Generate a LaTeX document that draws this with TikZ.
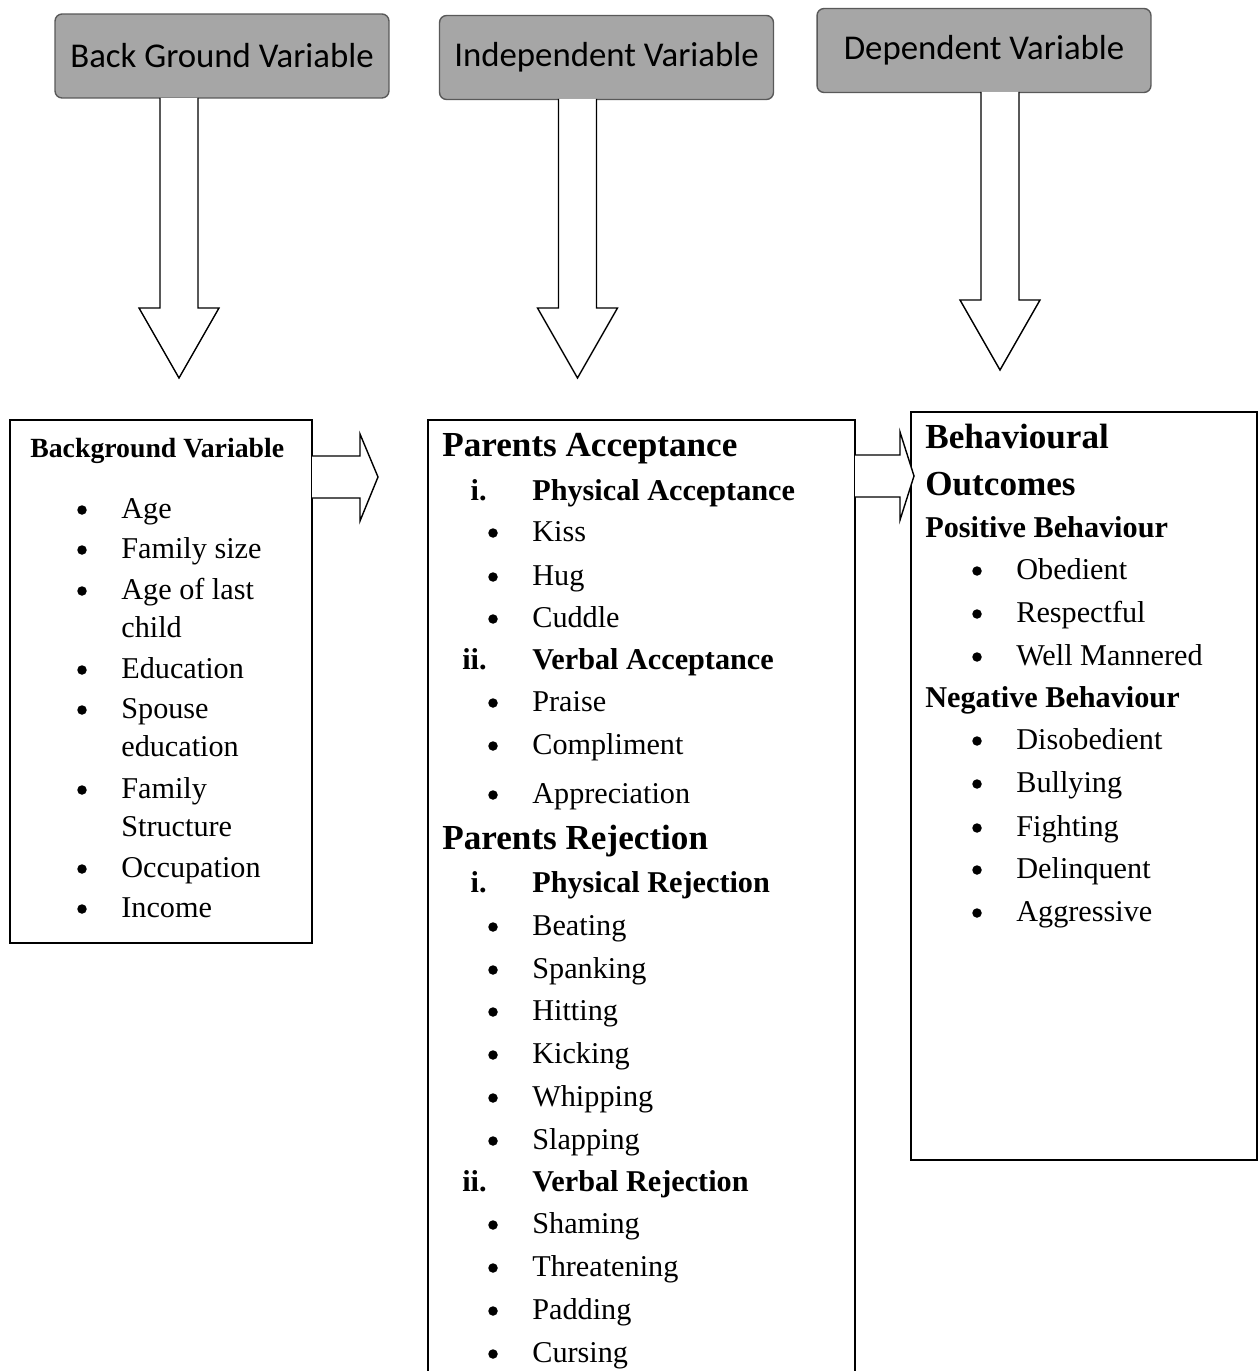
\documentclass[tikz,border=0pt]{standalone}
\usepackage{fontspec}
\setmainfont{Liberation Serif}
\newfontfamily\calibri{Carlito}
\usetikzlibrary{calc,positioning}

\tikzset{
  varbox/.style={draw=black!65, fill=black!35, rounded corners=4pt, line width=0.8pt,
    minimum width=6.68cm, minimum height=1.68cm, font=\calibri\fontsize{19.8}{24}\selectfont},
  listbox/.style={draw, line width=0.8pt, inner sep=0pt},
  blockarrow/.style={draw, fill=white, line width=0.8pt, line join=miter},
  item/.style={anchor=base west, inner sep=0pt, font=\fontsize{17.2}{20}\selectfont},
  bul/.style={circle, fill, inner sep=0pt, minimum size=0.19cm},
  subhead/.style={item, font=\bfseries\fontsize{17.2}{20}\selectfont},
  bighead/.style={item, font=\bfseries\fontsize{20}{24}\selectfont},
}

\begin{document}
\begin{tikzpicture}[x=0.02cm, y=-0.02cm]
    \useasboundingbox (0,0) rectangle (1259,1371);

    % top labels
    \node[varbox] (bgvar) at (222,56) {Back Ground Variable};
    \node[varbox] (indvar) at (606.5,57.5) {Independent Variable};
    \node[varbox] (depvar) at (984,50.5) {Dependent Variable};

    % big arrows down
    \foreach \x/\ya/\yh/\yb in {179/98/308/378, 577.5/99/308/378, 1000/92/300/370}
      \draw[blockarrow] (\x-19,\ya) -- (\x-19,\yh) -- (\x-40,\yh) -- (\x,\yb)
        -- (\x+40,\yh) -- (\x+19,\yh) -- (\x+19,\ya);

    % boxes
    \node[listbox, minimum width=6.04cm, minimum height=10.46cm] (bgbox) at (161,681.5) {};
    \node[listbox, minimum width=8.54cm, minimum height=19.3cm] (indbox) at (641.5,902.5) {};
    \node[listbox, minimum width=6.92cm, minimum height=14.96cm] (depbox) at (1084,786) {};

    % arrows across
    \draw[blockarrow] (312,456) -- (360,456) -- (360,434) -- (378,477)
        -- (360,521) -- (360,498) -- (312,498);
    \draw[blockarrow] (855,455) -- (900,455) -- (900,432) -- (914,476)
        -- (900,520) -- (900,497) -- (855,497);

    % background variable
    \node[item, font=\bfseries\fontsize{15.8}{19}\selectfont] (bghead) at (30,457) {Background Variable};
    \foreach \y/\t [count=\i] in {508/Age, 548/Family size, 589/Age of last, 668/Education,
        708/Spouse, 788/Family, 867/Occupation, 907/Income} {
      \node[bul] (bgb\i) at (82,\y+2) {};
      \node[item] (bgt\i) at (121,\y+10) {\t};
    }
    \foreach \y/\t [count=\i] in {627/child, 746/education, 826/Structure}
      \node[item] (bgc\i) at (121,\y+10) {\t};

    % independent variable
    \node[bighead] (pacc) at (442,456) {Parents Acceptance};
    \node[subhead, anchor=base east] (pai) at (487,500) {i.};
    \node[subhead] (paphys) at (532,500) {Physical Acceptance};
    \node[subhead, anchor=base east] (paii) at (487,669) {ii.};
    \node[subhead] (paverb) at (532,669) {Verbal Acceptance};
    \node[bighead] (prej) at (442,849) {Parents Rejection};
    \node[subhead, anchor=base east] (pri) at (487,892) {i.};
    \node[subhead] (prphys) at (532,892) {Physical Rejection};
    \node[subhead, anchor=base east] (prii) at (487,1191) {ii.};
    \node[subhead] (prverb) at (532,1191) {Verbal Rejection};
    \foreach \y/\t [count=\i] in {531/Kiss, 575/Hug, 617/Cuddle, 701/Praise, 744/Compliment,
        793/Appreciation, 925/Beating, 968/Spanking, 1010/Hitting, 1053/Kicking,
        1096/Whipping, 1139/Slapping, 1223/Shaming, 1266/Threatening, 1309/Padding,
        1352/Cursing} {
      \node[bul] (ivb\i) at (493,\y+2) {};
      \node[item] (ivt\i) at (532,\y+10) {\t};
    }

    % dependent variable
    \node[bighead] (bo1) at (925,448) {Behavioural};
    \node[bighead] (bo2) at (925,495) {Outcomes};
    \node[subhead] (posb) at (925,537) {Positive Behaviour};
    \node[subhead] (negb) at (925,707) {Negative Behaviour};
    \foreach \y/\t [count=\i] in {569/Obedient, 612/Respectful, 655/Well Mannered,
        739/Disobedient, 782/Bullying, 826/Fighting, 868/Delinquent, 911/Aggressive} {
      \node[bul] (dvb\i) at (977,\y+2) {};
      \node[item] (dvt\i) at (1016,\y+10) {\t};
    }
\end{tikzpicture}
\end{document}
